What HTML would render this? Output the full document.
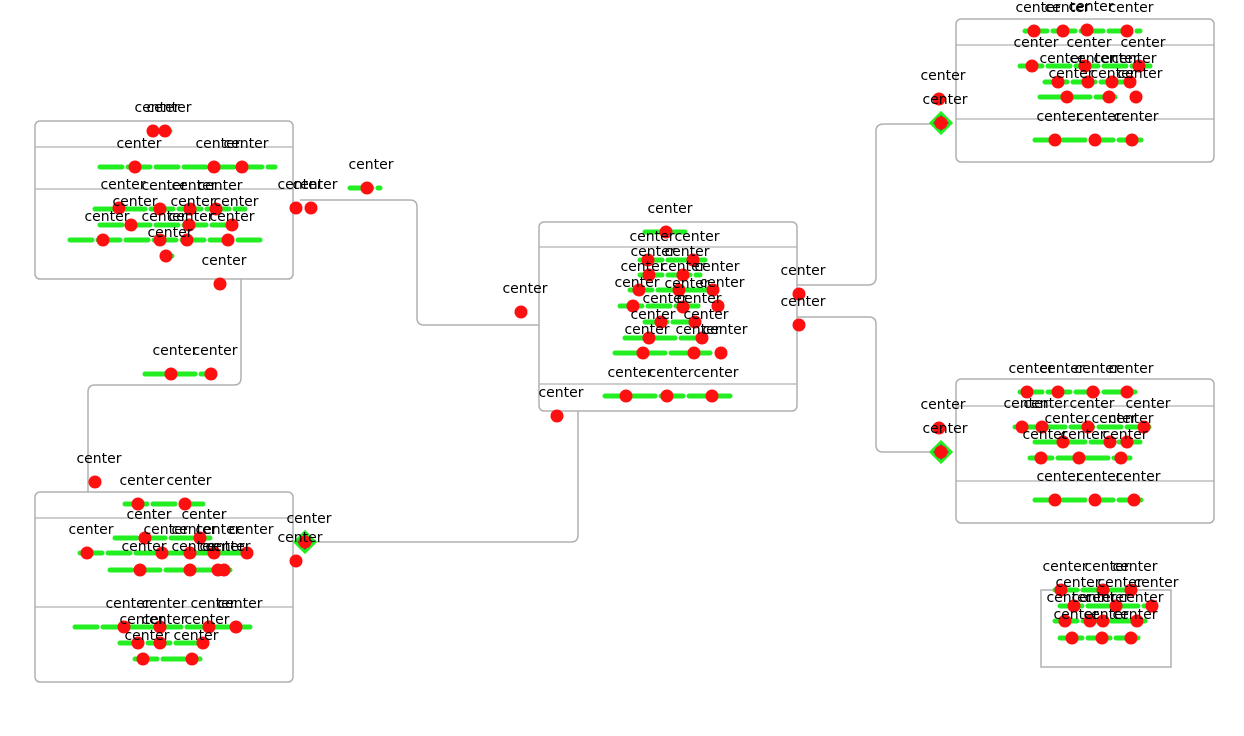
<!DOCTYPE html>
<html><head><meta charset="utf-8"><style>
html,body{margin:0;padding:0;background:#fff;width:1244px;height:736px;overflow:hidden}
svg{display:block}
text{font-family:"DejaVu Sans","Liberation Sans",sans-serif;font-size:14px;fill:#000;text-anchor:middle}
</style></head><body>
<svg id="c" width="1244" height="736">
<g id="boxes"></g><g id="links"></g><g id="green"></g><g id="dots"></g><g id="labels"></g>
</svg>
<script>
const NS='http://www.w3.org/2000/svg';
const boxX=[35,539,956,956,35,1041];
const boxY=[121,222,19,379,492,590];
const boxW=[258,258,258,258,258,130];
const boxH=[158,189,143,144,190,77];
const div1=[147,247,45,406,518,null];
const div2=[189,384,119,481,607,null];
const linkPaths=["M300 200 H410 Q417 200 417 207 V318 Q417 325 424 325 H539",
"M241 279 V378 Q241 385 234 385 H95 Q88 385 88 392 V492",
"M313 542 H571 Q578 542 578 535 V411",
"M797 285 H868 Q876 285 876 277 V131 Q876 124 884 124 H935",
"M797 317 H869 Q876 317 876 324 V445 Q876 452 883 452 H935"];
const diamondX=[941,941,305];
const diamondY=[123,452,542];
const greenRows=[[155,170,131],[100,275,167],[95,245,209],[100,235,225],[70,260,240],[162,172,256],[350,380,188],
[145,215,374],[125,205,504],[115,210,538],[80,250,553],[110,230,570],[75,250,627],[120,205,643],[135,200,659],
[645,685,232],[640,705,260],[640,700,275],[630,710,290],[620,700,306],[645,695,322],[625,705,338],[615,710,353],[605,730,396],
[1025,1140,31],[1020,1150,66],[1045,1125,82],[1040,1115,97],[1035,1145,140],
[1020,1135,392],[1015,1155,427],[1035,1140,442],[1030,1130,458],[1035,1145,500],
[1055,1135,590],[1060,1155,606],[1055,1145,621],[1060,1140,638]];
const dotX=[153,165,135,214,242,119,160,190,216,131,189,232,103,160,187,228,166,220,296,311,367,171,211,95,
138,185,145,200,87,162,190,214,247,140,190,218,224,124,160,209,236,138,160,203,143,192,296,305,
521,557,666,648,693,649,683,639,679,713,633,683,718,661,695,649,702,643,694,721,626,667,712,799,799,
1034,1063,1087,1127,1032,1085,1139,1058,1088,1112,1130,1067,1109,1136,1055,1095,1132,939,941,
1027,1058,1093,1127,1022,1042,1088,1144,1063,1110,1127,1041,1079,1121,1055,1095,1134,939,941,
1061,1103,1131,1074,1116,1152,1065,1090,1103,1137,1072,1102,1131];
const dotY=[131,131,167,167,167,208,209,209,209,225,225,225,240,240,240,240,256,284,208,208,188,374,374,482,
504,504,538,538,553,553,553,553,553,570,570,570,570,627,627,627,627,643,643,643,659,659,561,542,
312,416,232,260,260,275,275,290,290,290,306,307,306,322,322,338,338,353,353,353,396,396,396,294,325,
31,31,30,31,66,66,66,82,82,82,82,97,97,97,140,140,140,99,123,
392,392,392,392,427,427,427,427,442,442,442,458,458,458,500,500,500,428,452,
590,590,590,606,606,606,621,621,621,621,638,638,638];
function mk(t,p,a){const e=document.createElementNS(NS,t);for(const k in a)e.setAttribute(k,a[k]);document.getElementById(p).appendChild(e);return e;}
for(let i=0;i<boxX.length;i++){
 const r=mk('rect','boxes',{x:boxX[i],y:boxY[i],width:boxW[i],height:boxH[i],rx:i==5?0:5,fill:'#fff',stroke:'#b0b0b0','stroke-width':1.5});
 
 
 [div1[i],div2[i]].forEach(d=>{if(d!==null){const l=mk('line','boxes',{x1:boxX[i],x2:boxX[i]+boxW[i],y1:d,y2:d,stroke:'#b0b0b0','stroke-width':1.2});
 
 }});
}
linkPaths.forEach(p=>{const e=mk('path','links',{d:p,fill:'none',stroke:'#b0b0b0','stroke-width':1.5});
 
 });
for(let i=0;i<diamondX.length;i++){const x=diamondX[i],y=diamondY[i];
 const e=mk('polygon','links',{points:`${x-10},${y} ${x},${y-10} ${x+10},${y} ${x},${y+10}`,fill:'#555',stroke:'#22ee22','stroke-width':3});
 
 }
greenRows.forEach(g=>{const e=mk('line','green',{x1:g[0],x2:g[1],y1:g[2],y2:g[2],stroke:'#22ee22','stroke-width':5,'stroke-linecap':'round','stroke-dasharray':'22 6'});
 
 });
for(let i=0;i<dotX.length;i++){
 const d=mk('circle','dots',{cx:dotX[i],cy:dotY[i],r:6.5,fill:'#ff1010'});
 
 
 const t=mk('text','labels',{x:dotX[i]+4,y:dotY[i]-19});
 t.textContent='center';
 
 
}
</script>
</body></html>
